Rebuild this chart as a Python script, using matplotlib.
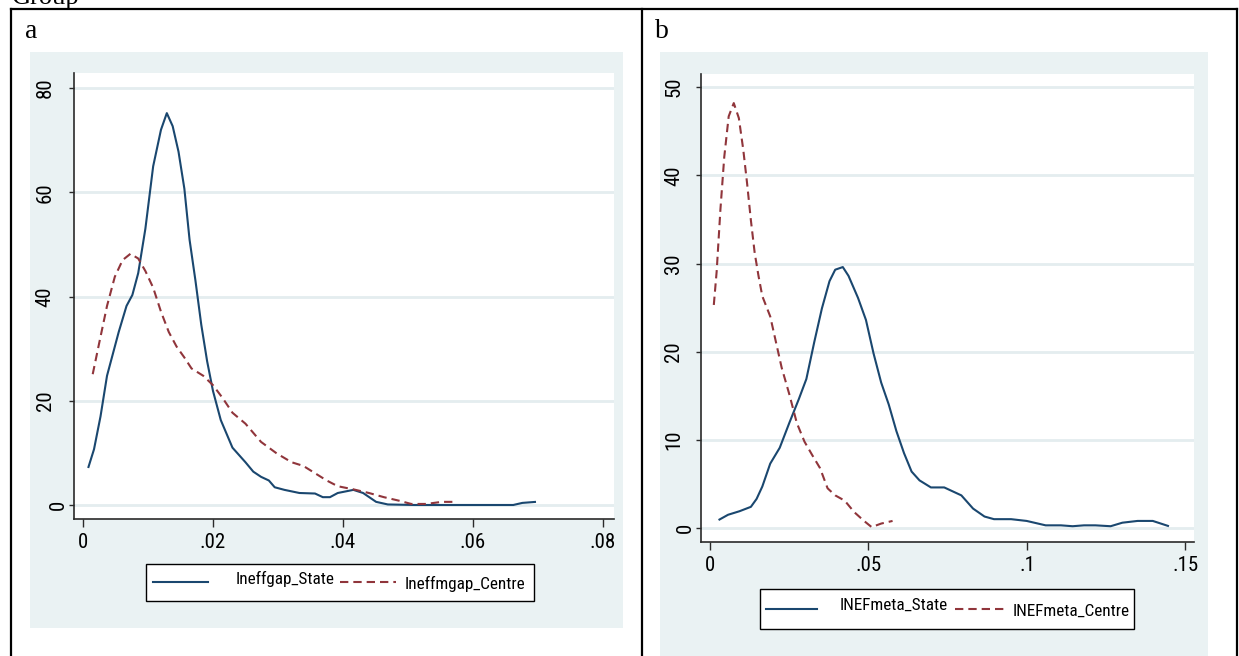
import matplotlib
matplotlib.use("Agg")
import matplotlib.pyplot as plt
from matplotlib.patches import Rectangle
from matplotlib.lines import Line2D
from matplotlib.transforms import offset_copy
from matplotlib import font_manager

# ---------------- data ----------------
# Panel a: kernel densities of Ineffgap_State / Ineffmgap_Centre
a_state_x = [0.0008, 0.0017, 0.0027, 0.0037, 0.0055, 0.0067, 0.0076, 0.0085, 0.0096,
             0.0108, 0.0120, 0.0129, 0.0138, 0.0147, 0.0156, 0.0164, 0.0173, 0.0182,
             0.0191, 0.0200, 0.0212, 0.0230, 0.0240, 0.0250, 0.0262, 0.0274, 0.0286,
             0.0295, 0.0310, 0.0333, 0.0357, 0.0369, 0.0380, 0.0392, 0.0416, 0.0431,
             0.0451, 0.0469, 0.0510, 0.0662, 0.0676, 0.0697]
a_state_y = [7.1, 10.7, 17.0, 24.8, 33.2, 38.2, 40.3, 44.5, 53.0,
             65.0, 72.0, 75.2, 72.7, 67.8, 60.7, 50.9, 43.1, 34.6,
             27.6, 21.9, 16.3, 11.0, 9.6, 8.2, 6.4, 5.4, 4.7,
             3.4, 2.9, 2.3, 2.2, 1.5, 1.5, 2.3, 2.9, 2.3,
             0.6, 0.1, 0.0, 0.0, 0.4, 0.6]
a_centre_x = [0.0015, 0.0025, 0.0037, 0.0049, 0.0061, 0.0073, 0.0085, 0.0096, 0.0108,
              0.0120, 0.0132, 0.0144, 0.0156, 0.0167, 0.0185, 0.0200, 0.0215, 0.0230,
              0.0250, 0.0274, 0.0298, 0.0321, 0.0339, 0.0357, 0.0375, 0.0392, 0.0416,
              0.0440, 0.0463, 0.0487, 0.0505, 0.0528, 0.0552, 0.0573]
a_centre_y = [25.1, 31.1, 38.2, 43.8, 47.0, 48.2, 47.3, 44.9, 41.7,
              37.1, 33.2, 30.4, 28.3, 26.2, 24.8, 23.0, 20.5, 17.7,
              15.6, 12.1, 9.9, 8.2, 7.5, 6.1, 4.7, 3.6, 3.0,
              2.3, 1.5, 0.8, 0.2, 0.2, 0.6, 0.6]

# Panel b: kernel densities of INEFmeta_State / INEFmeta_Centre
b_state_x = [0.0027, 0.0057, 0.0093, 0.0129, 0.0147, 0.0165, 0.0190, 0.0220, 0.0250,
             0.0280, 0.0304, 0.0329, 0.0353, 0.0377, 0.0395, 0.0419, 0.0437, 0.0467,
             0.0492, 0.0516, 0.0540, 0.0564, 0.0588, 0.0612, 0.0636, 0.0661, 0.0697,
             0.0739, 0.0763, 0.0793, 0.0830, 0.0866, 0.0896, 0.0950, 0.0999, 0.1059,
             0.1107, 0.1144, 0.1180, 0.1216, 0.1264, 0.1301, 0.1349, 0.1397, 0.1448]
b_state_y = [0.9, 1.5, 1.9, 2.4, 3.3, 4.7, 7.3, 9.1, 11.9,
             14.6, 16.9, 21.1, 24.9, 28.0, 29.3, 29.6, 28.6, 26.1,
             23.6, 19.8, 16.5, 14.0, 11.0, 8.5, 6.4, 5.4, 4.6,
             4.6, 4.2, 3.7, 2.2, 1.3, 1.0, 1.0, 0.8, 0.3,
             0.3, 0.2, 0.3, 0.3, 0.2, 0.6, 0.8, 0.8, 0.2]
b_centre_x = [0.0012, 0.0021, 0.0033, 0.0045, 0.0059, 0.0075, 0.0091, 0.0105, 0.0117,
              0.0129, 0.0141, 0.0153, 0.0165, 0.0190, 0.0208, 0.0226, 0.0250, 0.0274,
              0.0298, 0.0322, 0.0347, 0.0371, 0.0395, 0.0425, 0.0455, 0.0486, 0.0510,
              0.0540, 0.0576]
b_centre_y = [25.3, 29.1, 36.2, 42.1, 46.7, 48.2, 46.5, 42.9, 39.1,
              34.9, 31.2, 28.6, 26.3, 24.0, 21.1, 18.2, 15.2, 11.9,
              9.8, 8.3, 6.8, 4.5, 3.7, 3.1, 1.8, 0.8, 0.1,
              0.5, 0.8]

a_xticks = [0, 0.02, 0.04, 0.06, 0.08]
a_xticklabels = ["0", ".02", ".04", ".06", ".08"]
a_yticks = [0, 20, 40, 60, 80]
a_yticklabels = ["0", "20", "40", "60", "80"]
b_xticks = [0, 0.05, 0.10, 0.15]
b_xticklabels = ["0", ".05", ".1", ".15"]
b_yticks = [0, 10, 20, 30, 40, 50]
b_yticklabels = ["0", "10", "20", "30", "40", "50"]

a_labels = ["Ineffgap_State", "Ineffmgap_Centre"]
b_labels = ["INEFmeta_State", "INEFmeta_Centre"]
panel_titles = ["a", "b"]

# ---------------- style ----------------
NAVY = "#1A476F"
MAROON = "#90353B"
BG = "#EAF2F3"
GRID = "#E4EDEF"
AXC = "#2A2A2A"
DASH = (0, (4.0, 2.4))

installed = {f.name for f in font_manager.fontManager.ttflist}
narrow = [n for n in ["Liberation Sans Narrow", "Roboto Condensed", "Open Sans Condensed",
                      "DejaVu Sans Condensed", "Arial Narrow"] if n in installed]
if narrow:
    SANS = [narrow[0], "Liberation Sans", "DejaVu Sans"]
    TICK_FS, LEG_FS = 15, 12.3
else:
    SANS = ["Liberation Sans", "DejaVu Sans"]
    TICK_FS, LEG_FS = 14, 11.0
SERIF = ["Liberation Serif", "DejaVu Serif"]

W, H = 1239, 656
fig = plt.figure(figsize=(W / 100, H / 100), dpi=100)
fig.patch.set_facecolor("white")


def frect(x0, y0, x1, y1):
    return [x0 / W, 1 - y1 / H, (x1 - x0) / W, (y1 - y0) / H]


def fpt(x, y):
    return x / W, 1 - y / H


# outer caption, cut off at the top edge as in the source page
fig.text(*fpt(12, 4), "Group", family=SERIF, fontsize=19, ha="left", va="baseline")

# grey graph regions
for (x0, y0, x1, y1) in [(30, 52, 623, 628), (660, 52, 1208, 700)]:
    r = frect(x0, y0, x1, y1)
    fig.add_artist(Rectangle((r[0], r[1]), r[2], r[3], transform=fig.transFigure,
                             facecolor=BG, edgecolor="none", zorder=0))

# table frame
for (xs, ys) in [((11, 1237), (9, 9)), ((11, 11), (9, 660)),
                 ((1237, 1237), (9, 660)), ((642, 642), (9, 660))]:
    fig.add_artist(Line2D([x / W for x in xs], [1 - y / H for y in ys],
                          transform=fig.transFigure, color="black", lw=1.6, zorder=5))

fig.text(*fpt(25, 38), panel_titles[0], family=SERIF, fontsize=20, va="baseline")
fig.text(*fpt(655, 38), panel_titles[1], family=SERIF, fontsize=20, va="baseline")


def make_panel(box, xlim, ylim, xticks, xtl, yticks, ytl, series, ylab_off, zero_off):
    ax = fig.add_axes(frect(*box))
    ax.set_facecolor("white")
    lines = []
    for (x, y, color, ls) in series:
        ln, = ax.plot(x, y, color=color, lw=1.5, linestyle=ls, zorder=3,
                      solid_capstyle="butt", dash_capstyle="butt")
        lines.append(ln)
    ax.set_xlim(*xlim)
    ax.set_ylim(*ylim)
    ax.set_xticks(xticks)
    ax.set_xticklabels(xtl, family=SANS, fontsize=TICK_FS)
    ax.set_yticks(yticks)
    ax.set_yticklabels([])
    ax.tick_params(axis="x", direction="out", length=5.8, width=1.0, color=AXC, pad=4)
    ax.tick_params(axis="y", direction="out", length=3.6, width=1.0, color=AXC, pad=0)
    for s in ("top", "right"):
        ax.spines[s].set_visible(False)
    for s in ("left", "bottom"):
        ax.spines[s].set_color(AXC)
        ax.spines[s].set_linewidth(1.2)
    ax.yaxis.grid(True, color=GRID, lw=2.0, zorder=1)
    ax.set_axisbelow(True)
    for v, lab in zip(yticks, ytl):
        off = zero_off if lab == "0" else ylab_off
        tr = offset_copy(ax.get_yaxis_transform(), fig=fig, x=off, y=0, units="dots")
        ax.text(0, v, lab, transform=tr, rotation=90, ha="center", va="center",
                family=SANS, fontsize=TICK_FS, clip_on=False)
    return ax, lines


ax_a, lines_a = make_panel((74, 73, 614, 519), (-0.00138, 0.0817), (-2.69, 82.9),
                           a_xticks, a_xticklabels, a_yticks, a_yticklabels,
                           [(a_state_x, a_state_y, NAVY, "-"),
                            (a_centre_x, a_centre_y, MAROON, DASH)],
                           -29, -16)
ax_b, lines_b = make_panel((701, 74, 1194, 542), (-0.00284, 0.1527), (-1.59, 51.5),
                           b_xticks, b_xticklabels, b_yticks, b_yticklabels,
                           [(b_state_x, b_state_y, NAVY, "-"),
                            (b_centre_x, b_centre_y, MAROON, DASH)],
                           -27, -16)


def legend(box, lines, labels, k1, t1, k2, t2, ky, b1, b2):
    r = frect(*box)
    fig.add_artist(Rectangle((r[0], r[1]), r[2], r[3], transform=fig.transFigure,
                             facecolor="white", edgecolor="black", lw=1.0, zorder=4))
    styles = ["-", DASH]
    for (kx0, kx1), ln, st in zip([k1, k2], lines, styles):
        fig.add_artist(Line2D([kx0 / W, kx1 / W], [1 - ky / H, 1 - ky / H],
                              transform=fig.transFigure, color=ln.get_color(),
                              linestyle=st, lw=ln.get_linewidth(), zorder=6))
    fig.text(*fpt(t1, b1), labels[0], family=SANS, fontsize=LEG_FS, va="baseline",
             zorder=6)
    fig.text(*fpt(t2, b2), labels[1], family=SANS, fontsize=LEG_FS, va="baseline",
             zorder=6)


legend((146, 564, 534, 601), lines_a, a_labels, (153, 208), 236, (340, 396), 405,
       582, 584, 589)
legend((760, 589, 1134, 629), lines_b, b_labels, (766, 817), 840, (955, 1006), 1013,
       609, 610, 616)

fig.savefig("out.png", dpi=100)
